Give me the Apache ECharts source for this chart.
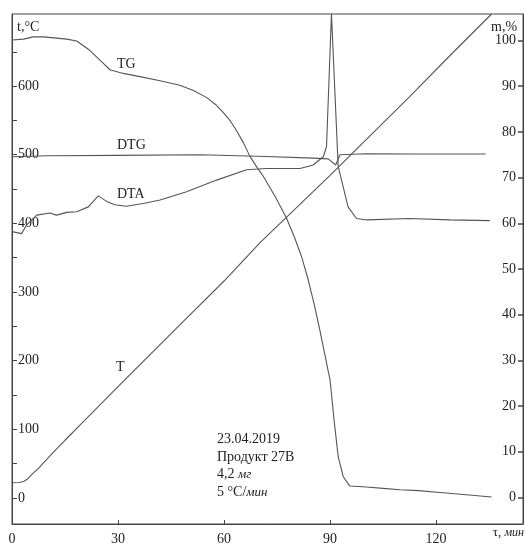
<!DOCTYPE html>
<html>
<head>
<meta charset="utf-8">
<script src="https://cdn.jsdelivr.net/npm/echarts@6/dist/echarts.min.js"></script>
<style>
html,body{margin:0;padding:0;background:#fff;}
#chart{width:526px;height:546px;}
</style>
</head>
<body>
<div id="chart"></div>
<script>
// ---- data (time in min) ----
const xTicks = [0, 30, 60, 90, 120];
const tTicks = [0, 100, 200, 300, 400, 500, 600];
const tMinorTicks = [0, 50, 100, 150, 200, 250, 300, 350, 400, 450, 500, 550, 600, 650];
const mTicks = [0, 10, 20, 30, 40, 50, 60, 70, 80, 90, 100];

// T, temperature (left axis, °C)
const seriesT = [
  [0, 22], [2, 22.5], [3.3, 24], [4.5, 28], [6, 36], [7.5, 43], [8.9, 51],
  [12, 68], [15, 84], [20, 110], [30, 162], [47.5, 252], [60, 316],
  [70.2, 372], [90, 470], [112.6, 585], [125, 650], [135.7, 705]
];

// TG, mass (right axis, %)
const seriesTG = [
  [0, 100.1], [3.3, 100.3], [6, 100.8], [8.9, 100.8], [15.5, 100.3], [18.3, 99.9],
  [21.6, 98.1], [24.9, 95.7], [27.7, 93.6], [31.5, 92.8], [36.2, 92.1], [41.9, 91.2],
  [47.5, 90.2], [51.5, 89.0], [55.1, 87.5], [57.6, 86.0], [59.8, 84.2], [61.8, 82.4],
  [63.6, 80.2], [65.5, 77.6], [67.3, 74.7], [69.2, 72.4], [71.1, 70.3], [74.5, 65.8],
  [77.7, 61.1], [79.9, 57.0], [81.9, 52.8], [83.8, 47.7], [85.5, 42.3], [87.1, 36.7],
  [90.0, 25.7], [91.2, 16.5], [92.3, 9.0], [93.7, 4.6], [95.6, 2.5], [100.3, 2.3],
  [105, 2.0], [109.8, 1.7], [115, 1.5], [121.1, 1.1], [128.6, 0.6], [135.7, 0.1]
];

// DTG (left-axis scale units)
const seriesDTG = [
  [0, 497], [10, 498.5], [30, 499], [53.2, 500], [72, 497.5], [85.2, 495],
  [89.5, 494], [91.6, 485], [92.8, 500], [100, 501.5], [115, 501], [134, 501]
];

// DTA (left-axis scale units)
const seriesDTA = [
  [0, 388], [2.7, 385], [4.2, 398], [7.0, 412], [10.7, 415], [12.6, 412],
  [15.5, 416], [18.3, 417], [21.6, 424], [24.4, 440], [26.8, 432], [29.1, 427],
  [32.4, 425], [37.1, 429], [41.9, 434], [49.4, 446], [57.9, 463], [66.4, 478],
  [72.1, 480], [77, 480], [81.5, 480], [85.2, 485], [88.1, 497], [89.0, 512],
  [90.4, 705], [92.3, 483], [95.1, 424], [97.5, 407], [100.3, 405], [112.6, 407],
  [123.9, 405], [135.2, 404]
];

const curveNames = ['T', 'TG', 'DTG', 'DTA'];
const noteLines = ['23.04.2019', 'Продукт 27B', '4,2 мг', '5 °C/мин'];

const FONT = '"Liberation Serif", "Times New Roman", serif';
const TXT = '#1e1e1e';
const LINE = '#555';

const chart = echarts.init(document.getElementById('chart'), null, {renderer: 'canvas'});

function lineSeries(name, data, yIdx) {
  return {
    name: name, type: 'line', data: data, yAxisIndex: yIdx,
    showSymbol: false, symbol: 'none', smooth: false, clip: true,
    lineStyle: {color: LINE, width: 1.1}, silent: true, animation: false
  };
}

const txtStyle = (t, x, y, extra) => Object.assign({
  type: 'text', left: x, top: y,
  style: {text: t, font: '14px ' + FONT, fill: TXT}
}, extra || {});

chart.setOption({
  animation: false,
  backgroundColor: '#fff',
  grid: {left: 12, right: 3, top: 14, bottom: 22, show: true, borderColor: '#444', borderWidth: 1},
  xAxis: {
    type: 'value', min: 0, max: 144.6,
    axisLine: {show: true, onZero: false, lineStyle: {color: '#444'}},
    axisTick: {show: true, inside: true, length: 4, customValues: xTicks, lineStyle: {color: '#444'}},
    axisLabel: {customValues: xTicks, color: TXT, fontFamily: FONT, fontSize: 14, margin: 8},
    splitLine: {show: false}
  },
  yAxis: [
    {
      type: 'value', position: 'left', min: -38, max: 705,
      axisLine: {show: true, onZero: false, lineStyle: {color: '#444'}},
      axisTick: {show: true, inside: true, length: 5, customValues: tMinorTicks, lineStyle: {color: '#444'}},
      axisLabel: {inside: true, customValues: tTicks, color: TXT, fontFamily: FONT, fontSize: 14, margin: 6},
      splitLine: {show: false}
    },
    {
      type: 'value', position: 'right', min: -5.8, max: 105.8,
      axisLine: {show: true, onZero: false, lineStyle: {color: '#444'}},
      axisTick: {show: true, inside: true, length: 5, customValues: mTicks, lineStyle: {color: '#444', width: 1.5}},
      axisLabel: {inside: true, customValues: mTicks, color: TXT, fontFamily: FONT, fontSize: 14, margin: 7},
      splitLine: {show: false}
    }
  ],
  series: [
    lineSeries(curveNames[0], seriesT, 0),
    lineSeries(curveNames[1], seriesTG, 1),
    lineSeries(curveNames[2], seriesDTG, 0),
    lineSeries(curveNames[3], seriesDTA, 0)
  ],
  graphic: [
    txtStyle('t,°C', 17, 20),
    txtStyle('m,%', 491, 20),
    txtStyle(curveNames[1], 117, 57),
    txtStyle(curveNames[2], 117, 138),
    txtStyle(curveNames[3], 117, 187),
    txtStyle(curveNames[0], 116, 360),
    {
      type: 'text', right: 2, top: 526,
      style: {
        text: '{n|τ, }{i|мин}',
        rich: {
          n: {font: '13px ' + FONT, fill: TXT},
          i: {font: 'italic 12px ' + FONT, fill: TXT}
        }
      }
    },
    {
      type: 'text', left: 217, top: 431,
      style: {
        text: noteLines[0] + '\n' + noteLines[1] + '\n{n|4,2 }{i|мг}\n{n|5 °C/}{i|мин}',
        font: '14px ' + FONT, fill: TXT, lineHeight: 17.5,
        rich: {
          n: {font: '14px ' + FONT, fill: TXT, lineHeight: 17.5},
          i: {font: 'italic 13px ' + FONT, fill: TXT, lineHeight: 17.5}
        }
      }
    }
  ]
});
</script>
</body>
</html>
